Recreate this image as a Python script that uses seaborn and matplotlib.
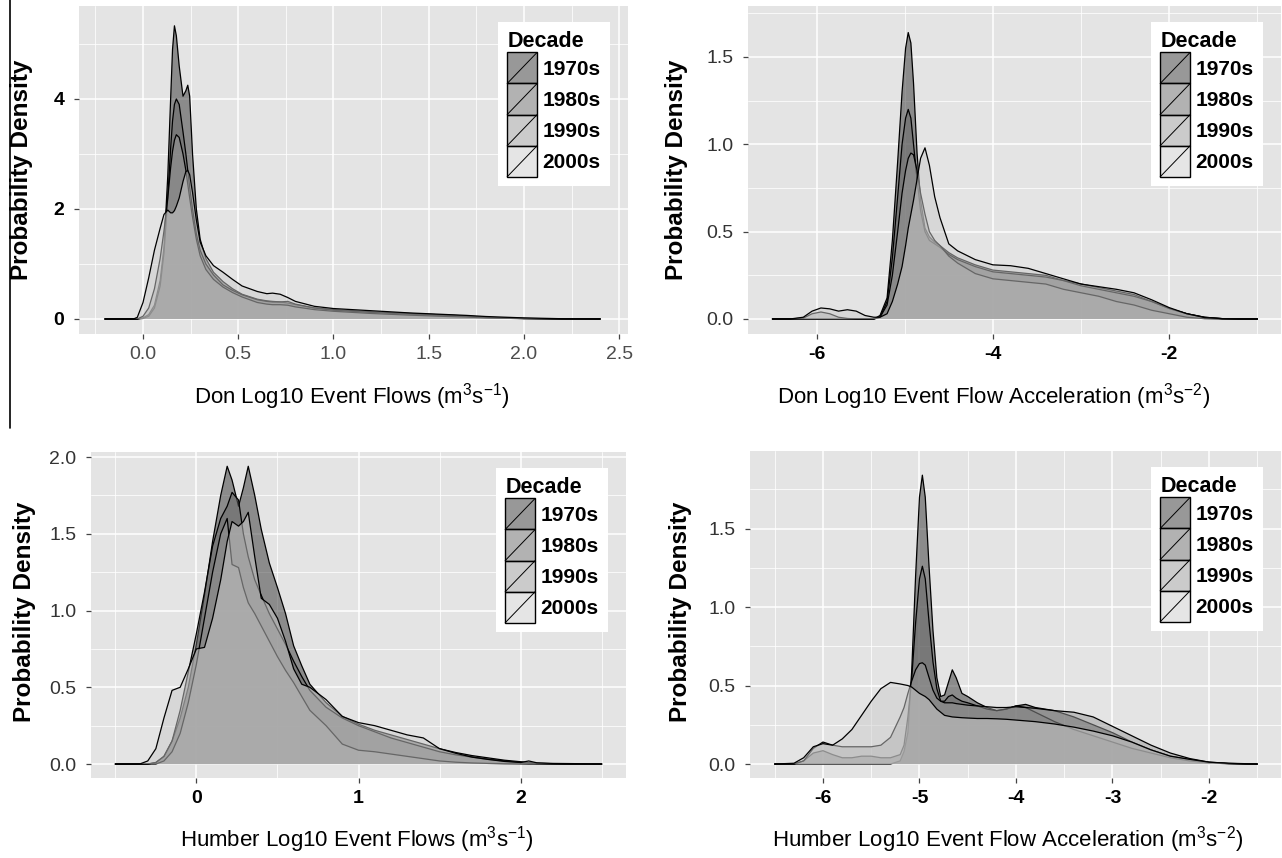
import numpy as np
import pandas as pd
import matplotlib
matplotlib.use("Agg")
import matplotlib.pyplot as plt
import seaborn as sns
from matplotlib.patches import Rectangle, Patch
from matplotlib.lines import Line2D
from matplotlib.legend_handler import HandlerBase

# ---- data (density curves per decade) ----
decades = ["1970s", "1980s", "1990s", "2000s"]
decade_fills = ["#333333", "#666666", "#999999", "#cccccc"]

# Don log10 event flows
don_flow_x = [-0.2, -0.05, -0.03, 0.0, 0.03, 0.06, 0.09, 0.11, 0.13, 0.145, 0.155, 0.165, 0.175, 0.19,
              0.21, 0.225, 0.235, 0.245, 0.26, 0.28, 0.30, 0.33, 0.37, 0.42, 0.47, 0.52, 0.6, 0.65,
              0.68, 0.72, 0.76, 0.8, 0.9, 1.0, 1.2, 1.4, 1.6, 1.7, 1.8, 2.0, 2.2, 2.4]
don_flow_1970s = [0, 0, 0, 0.02, 0.08, 0.25, 0.7, 1.3, 2.6, 4.0, 4.9, 5.33, 5.15, 4.6, 4.05, 4.15, 4.25,
                  4.05, 3.0, 2.0, 1.45, 1.1, 0.85, 0.68, 0.55, 0.45, 0.36, 0.33, 0.32, 0.31, 0.29, 0.26,
                  0.2, 0.17, 0.13, 0.1, 0.07, 0.055, 0.03, 0.01, 0.002, 0]
don_flow_1980s = [0, 0, 0, 0.01, 0.05, 0.2, 0.6, 1.2, 2.2, 3.1, 3.6, 3.9, 4.0, 3.9, 3.4, 3.0, 2.7, 2.4,
                  2.0, 1.55, 1.25, 1.0, 0.8, 0.62, 0.52, 0.44, 0.35, 0.32, 0.31, 0.31, 0.32, 0.27, 0.2,
                  0.16, 0.12, 0.09, 0.06, 0.045, 0.025, 0.008, 0.001, 0]
don_flow_1990s = [0, 0, 0, 0.05, 0.2, 0.55, 1.1, 1.6, 2.2, 2.75, 3.05, 3.25, 3.35, 3.3, 3.0, 2.7, 2.45,
                  2.2, 1.85, 1.45, 1.15, 0.9, 0.72, 0.58, 0.48, 0.4, 0.3, 0.27, 0.26, 0.26, 0.25, 0.22,
                  0.17, 0.14, 0.1, 0.07, 0.045, 0.035, 0.02, 0.006, 0.001, 0]
don_flow_2000s = [0, 0, 0.03, 0.3, 0.75, 1.25, 1.65, 1.9, 1.98, 1.93, 1.93, 1.97, 2.05, 2.2, 2.5, 2.68,
                  2.7, 2.62, 2.3, 1.8, 1.4, 1.15, 0.97, 0.85, 0.72, 0.6, 0.5, 0.46, 0.47, 0.45, 0.39,
                  0.32, 0.23, 0.19, 0.15, 0.11, 0.08, 0.065, 0.045, 0.02, 0.005, 0]

# Don log10 event flow acceleration
don_acc_x = [-6.5, -6.3, -6.15, -6.05, -5.95, -5.85, -5.75, -5.65, -5.55, -5.45, -5.35, -5.28, -5.2,
             -5.14, -5.08, -5.03, -4.99, -4.96, -4.93, -4.9, -4.86, -4.82, -4.77, -4.72, -4.66, -4.6,
             -4.5, -4.4, -4.2, -4.0, -3.8, -3.6, -3.4, -3.2, -3.0, -2.8, -2.6, -2.4, -2.2, -2.0, -1.8,
             -1.6, -1.4, -1.2, -1.0]
don_acc_1970s = [0, 0, 0, 0, 0, 0, 0, 0, 0, 0, 0, 0.02, 0.12, 0.45, 0.9, 1.3, 1.55, 1.64, 1.58, 1.35,
                 0.95, 0.68, 0.52, 0.47, 0.44, 0.42, 0.38, 0.35, 0.31, 0.28, 0.27, 0.26, 0.25, 0.22,
                 0.2, 0.18, 0.16, 0.14, 0.1, 0.06, 0.03, 0.01, 0.002, 0, 0]
don_acc_1980s = [0, 0, 0, 0, 0, 0, 0, 0, 0, 0, 0, 0.01, 0.1, 0.35, 0.7, 1.0, 1.15, 1.2, 1.15, 1.0, 0.8,
                 0.62, 0.5, 0.45, 0.43, 0.41, 0.37, 0.34, 0.3, 0.27, 0.26, 0.25, 0.24, 0.22, 0.19, 0.17,
                 0.15, 0.13, 0.1, 0.06, 0.03, 0.01, 0.002, 0, 0]
don_acc_1990s = [0, 0, 0.005, 0.03, 0.04, 0.03, 0.01, 0.003, 0, 0, 0, 0.01, 0.08, 0.25, 0.5, 0.72, 0.85,
                 0.92, 0.95, 0.94, 0.85, 0.72, 0.6, 0.5, 0.45, 0.42, 0.36, 0.32, 0.26, 0.23, 0.22, 0.21,
                 0.2, 0.17, 0.15, 0.13, 0.1, 0.08, 0.05, 0.03, 0.01, 0.002, 0, 0, 0]
don_acc_2000s = [0, 0, 0.01, 0.045, 0.063, 0.058, 0.045, 0.053, 0.045, 0.02, 0.01, 0.01, 0.03, 0.1, 0.2,
                 0.3, 0.42, 0.52, 0.6, 0.68, 0.8, 0.92, 0.98, 0.88, 0.7, 0.58, 0.43, 0.39, 0.34, 0.31,
                 0.305, 0.29, 0.26, 0.23, 0.2, 0.185, 0.17, 0.15, 0.11, 0.065, 0.03, 0.008, 0.002, 0, 0]

# Humber log10 event flows
humber_flow_x = [-0.5, -0.35, -0.3, -0.25, -0.2, -0.15, -0.1, -0.05, 0.0, 0.05, 0.1, 0.15, 0.19, 0.22,
                 0.26, 0.29, 0.32, 0.36, 0.4, 0.45, 0.5, 0.55, 0.6, 0.65, 0.7, 0.8, 0.9, 1.0, 1.1, 1.2,
                 1.3, 1.4, 1.5, 1.6, 1.7, 1.8, 1.9, 2.0, 2.05, 2.1, 2.2, 2.3, 2.4, 2.5]
humber_flow_1970s = [0, 0, 0, 0.01, 0.05, 0.15, 0.3, 0.5, 0.78, 1.1, 1.45, 1.75, 1.94, 1.85, 1.68, 1.8,
                     1.94, 1.75, 1.53, 1.31, 1.15, 0.98, 0.77, 0.64, 0.52, 0.4, 0.31, 0.26, 0.22, 0.19,
                     0.16, 0.13, 0.1, 0.075, 0.055, 0.04, 0.025, 0.015, 0.01, 0.005, 0.002, 0, 0, 0]
humber_flow_1980s = [0, 0, 0, 0.01, 0.05, 0.15, 0.35, 0.6, 0.85, 1.12, 1.42, 1.6, 1.68, 1.77, 1.72, 1.5,
                     1.35, 1.2, 1.1, 0.98, 0.88, 0.78, 0.67, 0.57, 0.48, 0.37, 0.3, 0.25, 0.21, 0.17,
                     0.14, 0.11, 0.08, 0.06, 0.045, 0.03, 0.02, 0.01, 0.006, 0.003, 0.001, 0, 0, 0]
humber_flow_1990s = [0, 0, 0, 0, 0.02, 0.08, 0.2, 0.4, 0.65, 0.95, 1.25, 1.5, 1.6, 1.3, 1.28, 1.15, 1.05,
                     0.98, 0.9, 0.8, 0.7, 0.61, 0.53, 0.44, 0.35, 0.25, 0.13, 0.09, 0.08, 0.065, 0.05,
                     0.035, 0.02, 0.012, 0.007, 0.004, 0.002, 0.001, 0, 0, 0, 0, 0, 0]
humber_flow_2000s = [0, 0, 0.02, 0.1, 0.3, 0.48, 0.5, 0.62, 0.75, 0.76, 0.95, 1.2, 1.45, 1.58, 1.55, 1.58,
                     1.64, 1.35, 1.08, 1.04, 0.95, 0.8, 0.62, 0.52, 0.5, 0.42, 0.31, 0.27, 0.25, 0.22,
                     0.19, 0.17, 0.1, 0.07, 0.045, 0.03, 0.017, 0.01, 0.02, 0.008, 0.004, 0.003, 0.002, 0]

# Humber log10 event flow acceleration
humber_acc_x = [-6.5, -6.3, -6.2, -6.1, -6.0, -5.9, -5.8, -5.7, -5.6, -5.5, -5.4, -5.3, -5.2, -5.16,
                -5.12, -5.08, -5.04, -5.0, -4.97, -4.94, -4.9, -4.86, -4.82, -4.78, -4.74, -4.7, -4.66,
                -4.62, -4.56, -4.5, -4.4, -4.3, -4.2, -4.1, -4.0, -3.9, -3.8, -3.6, -3.4, -3.2, -3.0,
                -2.8, -2.6, -2.4, -2.2, -2.0, -1.8, -1.6, -1.5]
humber_acc_1970s = [0, 0, 0, 0, 0, 0, 0, 0, 0, 0, 0, 0, 0.02, 0.08, 0.2, 0.6, 1.2, 1.7, 1.84, 1.7, 1.25,
                    0.85, 0.55, 0.43, 0.44, 0.52, 0.6, 0.55, 0.45, 0.43, 0.39, 0.36, 0.34, 0.35, 0.37,
                    0.38, 0.36, 0.34, 0.3, 0.25, 0.2, 0.14, 0.09, 0.05, 0.028, 0.01, 0.003, 0, 0]
humber_acc_1980s = [0, 0, 0.02, 0.07, 0.085, 0.06, 0.04, 0.04, 0.05, 0.05, 0.04, 0.04, 0.06, 0.12, 0.3,
                    0.55, 0.9, 1.18, 1.26, 1.18, 0.9, 0.65, 0.48, 0.4, 0.4, 0.43, 0.44, 0.42, 0.4, 0.39,
                    0.37, 0.35, 0.34, 0.35, 0.37, 0.36, 0.33, 0.27, 0.22, 0.18, 0.14, 0.1, 0.07, 0.04,
                    0.02, 0.007, 0.002, 0, 0]
humber_acc_1990s = [0, 0, 0.02, 0.1, 0.14, 0.12, 0.11, 0.11, 0.11, 0.11, 0.12, 0.17, 0.3, 0.36, 0.45,
                    0.53, 0.6, 0.64, 0.645, 0.63, 0.55, 0.47, 0.42, 0.4, 0.39, 0.39, 0.39, 0.385, 0.38,
                    0.375, 0.37, 0.365, 0.36, 0.36, 0.365, 0.36, 0.355, 0.34, 0.33, 0.3, 0.24, 0.18,
                    0.12, 0.07, 0.035, 0.012, 0.004, 0.001, 0]
humber_acc_2000s = [0, 0.005, 0.04, 0.11, 0.13, 0.12, 0.16, 0.22, 0.31, 0.4, 0.48, 0.52, 0.51, 0.505,
                    0.5, 0.49, 0.47, 0.45, 0.44, 0.43, 0.41, 0.38, 0.35, 0.33, 0.31, 0.305, 0.3, 0.298,
                    0.295, 0.293, 0.29, 0.29, 0.288, 0.285, 0.28, 0.275, 0.27, 0.255, 0.235, 0.21, 0.18,
                    0.14, 0.09, 0.05, 0.03, 0.012, 0.005, 0.002, 0]

# ---- style ----
sns.set_theme(style="darkgrid", rc={"axes.facecolor": "#e4e4e4", "grid.color": "white"})
plt.rcParams["font.family"] = ["Liberation Sans", "DejaVu Sans"]
plt.rcParams["mathtext.default"] = "regular"
plt.rcParams["text.color"] = "black"

W, H = 1282, 858
fig = plt.figure(figsize=(W / 100, H / 100), dpi=100)
fig.patch.set_facecolor("white")


class DensityKey(HandlerBase):
    # ggplot-style density key: filled square with a diagonal
    def create_artists(self, legend, orig_handle, xdescent, ydescent, width, height, fontsize, trans):
        x0, y0 = -xdescent, -ydescent
        box = Rectangle((x0, y0), width, height, facecolor=orig_handle.get_facecolor(),
                        edgecolor="black", linewidth=1.0, transform=trans)
        diag = Line2D([x0, x0 + width], [y0, y0 + height], color="black", linewidth=0.7,
                      transform=trans)
        return [box, diag]


def make_long(x, series):
    frames = []
    for dec, ys in zip(decades, series):
        frames.append(pd.DataFrame({"x": x, "density": ys, "Decade": dec}))
    return pd.concat(frames, ignore_index=True)


panels = [
    dict(df=make_long(don_flow_x, [don_flow_1970s, don_flow_1980s, don_flow_1990s, don_flow_2000s]),
         box=(79, 6, 628, 334), xlim=(-0.336, 2.546), ylim=(-0.273, 5.69),
         xticks=[0, 0.5, 1.0, 1.5, 2.0, 2.5], xlabels=["0.0", "0.5", "1.0", "1.5", "2.0", "2.5"],
         xminor=[-0.25, 0.25, 0.75, 1.25, 1.75, 2.25],
         yticks=[0, 2, 4], ylabels=["0", "2", "4"], yminor=[1, 3, 5],
         xbold=False, ybold=True,
         xlab="Don Log10 Event Flows (m$^{3}$s$^{-1}$)", xlab_pos=(352, 397), ylab_pos=(22, 170)),
    dict(df=make_long(don_acc_x, [don_acc_1970s, don_acc_1980s, don_acc_1990s, don_acc_2000s]),
         box=(748, 6, 1281, 334), xlim=(-6.777, -0.733), ylim=(-0.086, 1.792),
         xticks=[-6, -4, -2], xlabels=["-6", "-4", "-2"], xminor=[-5, -3, -1],
         yticks=[0, 0.5, 1.0, 1.5], ylabels=["0.0", "0.5", "1.0", "1.5"], yminor=[0.25, 0.75, 1.25, 1.75],
         xbold=True, ybold=False,
         xlab="Don Log10 Event Flow Acceleration (m$^{3}$s$^{-2}$)", xlab_pos=(994, 397),
         ylab_pos=(677, 170)),
    dict(df=make_long(humber_flow_x, [humber_flow_1970s, humber_flow_1980s, humber_flow_1990s,
                                      humber_flow_2000s]),
         box=(91, 452, 626, 778), xlim=(-0.65, 2.65), ylim=(-0.091, 2.033),
         xticks=[0, 1, 2], xlabels=["0", "1", "2"], xminor=[-0.5, 0.5, 1.5, 2.5],
         yticks=[0, 0.5, 1.0, 1.5, 2.0], ylabels=["0.0", "0.5", "1.0", "1.5", "2.0"],
         yminor=[0.25, 0.75, 1.25, 1.75],
         xbold=True, ybold=False,
         xlab="Humber Log10 Event Flows (m$^{3}$s$^{-1}$)", xlab_pos=(357, 840), ylab_pos=(25, 612)),
    dict(df=make_long(humber_acc_x, [humber_acc_1970s, humber_acc_1980s, humber_acc_1990s,
                                     humber_acc_2000s]),
         box=(750, 451, 1281, 778), xlim=(-6.756, -1.254), ylim=(-0.089, 1.994),
         xticks=[-6, -5, -4, -3, -2], xlabels=["-6", "-5", "-4", "-3", "-2"],
         xminor=[-6.5, -5.5, -4.5, -3.5, -2.5, -1.5],
         yticks=[0, 0.5, 1.0, 1.5], ylabels=["0.0", "0.5", "1.0", "1.5"], yminor=[0.25, 0.75, 1.25, 1.75],
         xbold=True, ybold=False,
         xlab="Humber Log10 Event Flow Acceleration (m$^{3}$s$^{-2}$)", xlab_pos=(1008, 840),
         ylab_pos=(681, 612)),
]

for p in panels:
    l, t, r, b = p["box"]
    ax = fig.add_axes([l / W, 1 - b / H, (r - l) / W, (b - t) / H])
    df = p["df"]
    for i, (dec, col) in enumerate(zip(decades, decade_fills)):
        sub = df[df["Decade"] == dec]
        rgba = matplotlib.colors.to_rgba(col, 0.5)
        ax.fill_between(sub["x"], sub["density"], 0, facecolor=rgba, edgecolor="none",
                        linewidth=0, zorder=2 + 2 * i)
        sns.lineplot(data=sub, x="x", y="density", ax=ax, color="black", linewidth=0.9,
                     estimator=None, sort=False, legend=False, zorder=3 + 2 * i)

    ax.set_xlim(*p["xlim"])
    ax.set_ylim(*p["ylim"])
    ax.set_xlabel("")
    ax.set_ylabel("")
    for s in ax.spines.values():
        s.set_visible(False)

    ax.set_xticks(p["xticks"])
    ax.set_xticks(p["xminor"], minor=True)
    ax.set_yticks(p["yticks"])
    ax.set_yticks(p["yminor"], minor=True)
    ax.set_xticklabels(p["xlabels"], fontsize=14,
                       fontweight="bold" if p["xbold"] else "normal",
                       color="black" if p["xbold"] else "#4d4d4d")
    ax.set_yticklabels(p["ylabels"], fontsize=14,
                       fontweight="bold" if p["ybold"] else "normal",
                       color="black" if p["ybold"] else "#333333")
    ax.tick_params(axis="x", which="major", bottom=True, length=3.5, width=0.9, color="#444444", pad=5)
    ax.tick_params(axis="y", which="major", left=True, length=3.5, width=0.9, color="#444444", pad=7)
    ax.tick_params(which="minor", length=0)
    ax.grid(which="major", color="white", linewidth=1.1)
    ax.grid(which="minor", color="white", linewidth=0.55)

    handles = [Patch(facecolor=matplotlib.colors.to_rgba(c, 0.5), label=d)
               for d, c in zip(decades, decade_fills)]
    axw, axh = r - l, b - t
    leg = ax.legend(handles=handles, title="Decade", loc="upper right",
                    bbox_to_anchor=(1 - 18 / axw, 1 - 16 / axh), borderaxespad=0,
                    handler_map={Patch: DensityKey()},
                    prop={"weight": "bold", "size": 15},
                    title_fontproperties={"weight": "bold", "size": 15.5},
                    handlelength=1.44, handleheight=1.92, labelspacing=0, handletextpad=0.25,
                    borderpad=0.45, frameon=True, fancybox=False, framealpha=1, alignment="left",
                    labelcolor="black")
    leg.get_title().set_color("black")
    leg.get_frame().set_facecolor("white")
    leg.get_frame().set_edgecolor("none")
    leg.set_zorder(20)

    fig.text(p["xlab_pos"][0] / W, 1 - p["xlab_pos"][1] / H, p["xlab"], fontsize=16,
             ha="center", va="center", color="black")
    fig.text(p["ylab_pos"][0] / W, 1 - p["ylab_pos"][1] / H, "Probability Density", fontsize=17.5,
             fontweight="bold", rotation=90, ha="center", va="center", color="black")

# thin vertical rule at the left edge of the upper half
fig.add_artist(Line2D([9.5 / W, 9.5 / W], [1, 1 - 428 / H], color="black", linewidth=1.2,
                      transform=fig.transFigure))

fig.savefig("out.png", dpi=100, facecolor="white")
